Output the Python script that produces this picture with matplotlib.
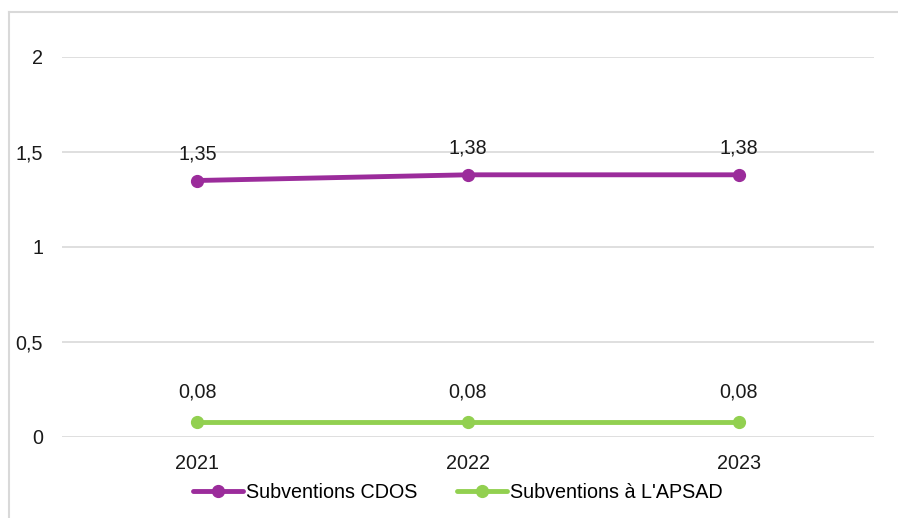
import matplotlib.pyplot as plt
from matplotlib.lines import Line2D

years = ['2021', '2022', '2023']
cdos = [1.35, 1.38, 1.38]
apsad = [0.08, 0.08, 0.08]
cdos_labels = ['1,35', '1,38', '1,38']
apsad_labels = ['0,08', '0,08', '0,08']
y_ticks = [0, 0.5, 1, 1.5, 2]
y_tick_labels = ['0', '0,5', '1', '1,5', '2']

plt.rcParams['font.family'] = ['Liberation Sans', 'DejaVu Sans']

W, H = 898, 518
fig = plt.figure(figsize=(W / 100, H / 100), dpi=100)
ax = fig.add_axes([62 / W, 1 - 437 / H, (874 - 62) / W, (437 - 57) / H])

purple = '#9B2C9B'
green = '#92D050'
fs = 14.2
x = range(len(years))

ax.plot(x, cdos, color=purple, lw=3.5, marker='o', ms=8.5, label='Subventions CDOS',
        solid_capstyle='round')
ax.plot(x, apsad, color=green, lw=3.5, marker='o', ms=8.5, label="Subventions à L'APSAD",
        solid_capstyle='round')

for xi, v, t in zip(x, cdos, cdos_labels):
    ax.annotate(t, (xi, v), xytext=(0, 19), textcoords='offset points',
                ha='center', va='center', fontsize=fs, color='#1a1a1a')
for xi, v, t in zip(x, apsad, apsad_labels):
    ax.annotate(t, (xi, v), xytext=(0, 21.5), textcoords='offset points',
                ha='center', va='center', fontsize=fs, color='#1a1a1a')

ax.set_xlim(-0.5, 2.5)
ax.set_ylim(0, 2)
ax.set_xticks(list(x))
ax.set_xticklabels(years, fontsize=fs, color='#1a1a1a')
ax.set_yticks(y_ticks)
ax.set_yticklabels(y_tick_labels, fontsize=fs, color='#1a1a1a')
ax.tick_params(length=0)
ax.tick_params(axis='y', pad=13.5)
ax.tick_params(axis='x', pad=12)
ax.grid(axis='y', color='#D9D9D9', lw=1.2)
ax.set_axisbelow(True)
for s in ax.spines.values():
    s.set_visible(False)

ax.legend(loc='center', bbox_to_anchor=(458 / W, 1 - 492 / H), bbox_transform=fig.transFigure,
          ncol=2, frameon=False, fontsize=fs, handlelength=2.55, handletextpad=0.15,
          columnspacing=2.0, borderaxespad=0, borderpad=0)

# light border of the chart area
fig.add_artist(Line2D([9 / W, 9 / W], [0, 1 - 12 / H], color='#D9D9D9', lw=1.5,
                      transform=fig.transFigure))
fig.add_artist(Line2D([9 / W, 1], [1 - 12 / H, 1 - 12 / H], color='#D9D9D9', lw=1.5,
                      transform=fig.transFigure))

fig.savefig('out.png', dpi=100)
